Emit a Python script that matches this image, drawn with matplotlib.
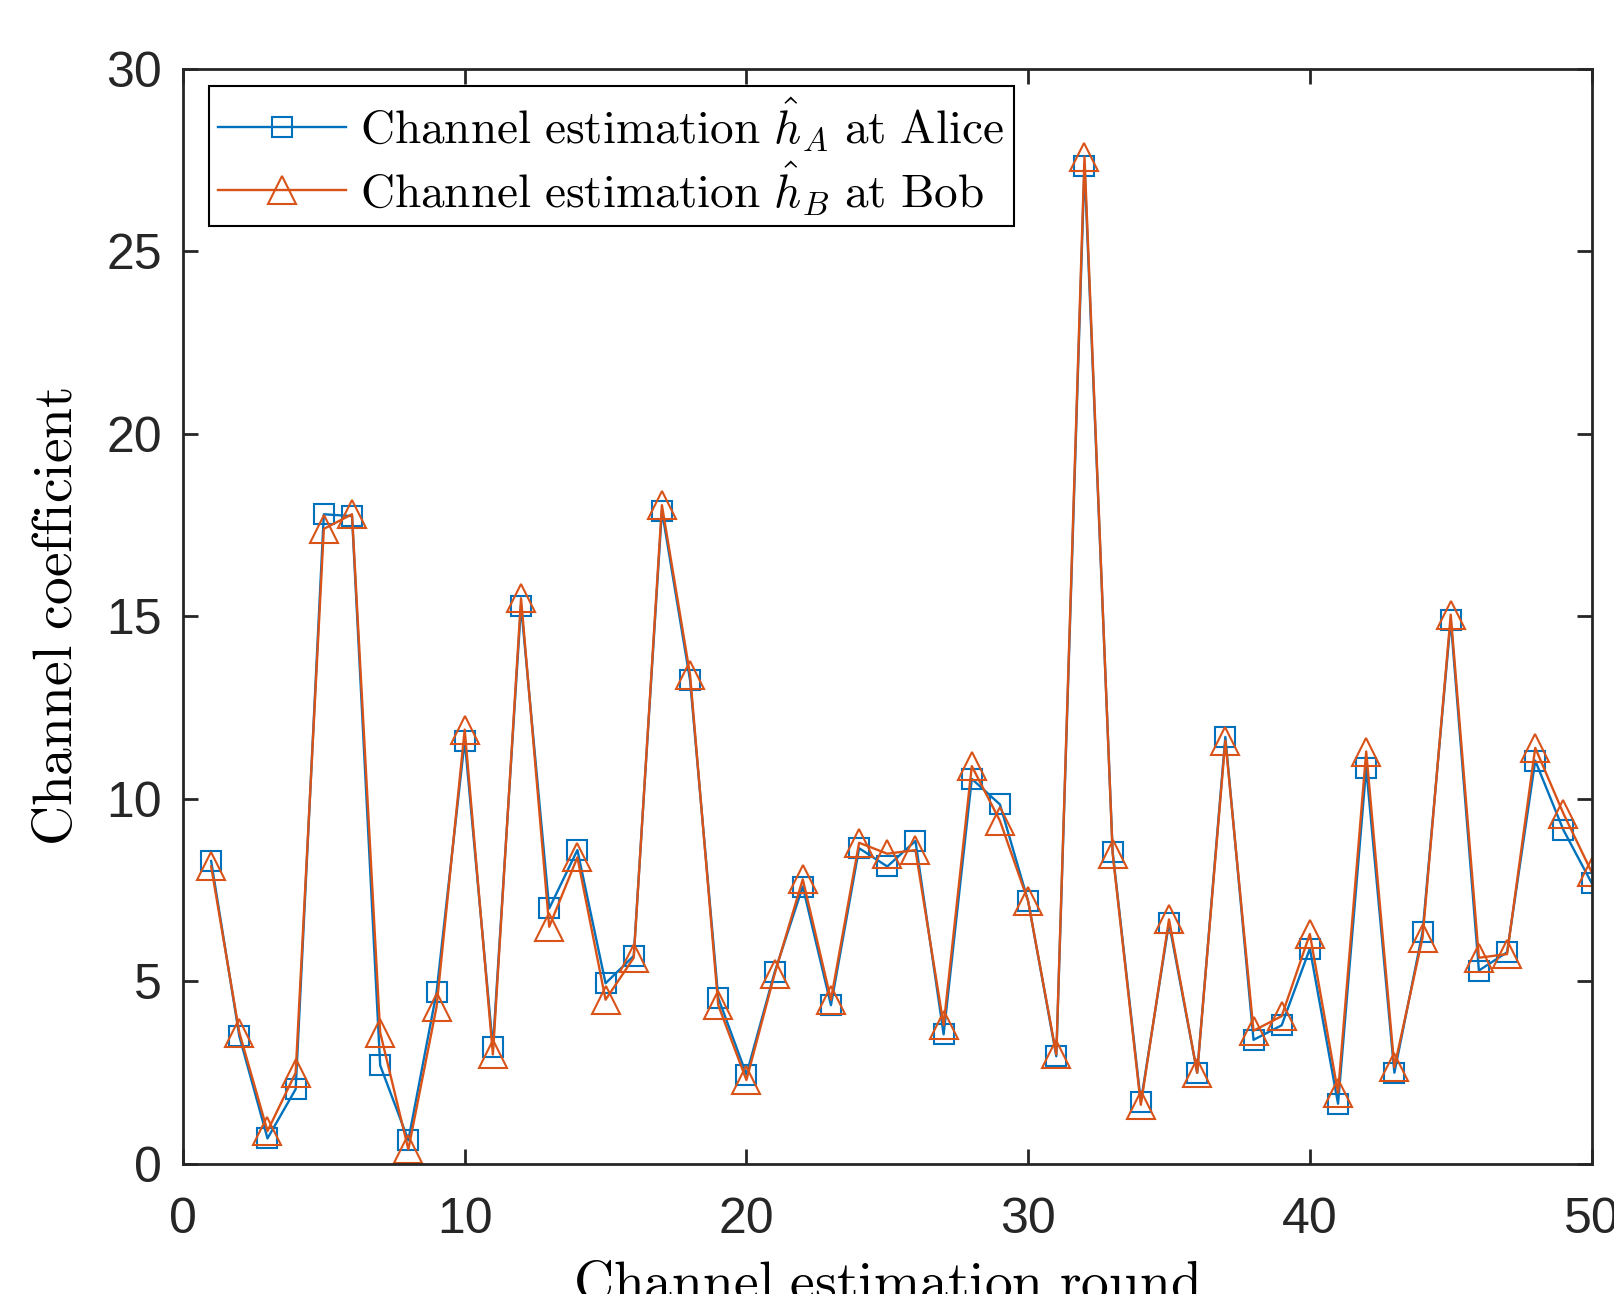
import matplotlib
matplotlib.use("Agg")
import matplotlib.pyplot as plt
import numpy as np

# channel estimation rounds
rounds = np.arange(1, 51)

# Alice's estimates (squares)
h_alice = [8.3, 3.5, 0.7, 2.05, 17.8, 17.75, 2.7, 0.65, 4.7, 11.6,
           3.2, 15.3, 7.0, 8.6, 4.95, 5.7, 17.9, 13.25, 4.55, 2.45,
           5.25, 7.6, 4.35, 8.65, 8.15, 8.85, 3.55, 10.55, 9.85, 7.2,
           2.95, 27.35, 8.55, 1.7, 6.6, 2.5, 11.7, 3.4, 3.8, 5.9,
           1.65, 10.85, 2.5, 6.35, 14.9, 5.3, 5.8, 11.05, 9.15, 7.7]

# Bob's estimates (triangles)
h_bob = [8.15, 3.6, 0.9, 2.5, 17.4, 17.8, 3.6, 0.4, 4.3, 11.9,
         3.0, 15.5, 6.5, 8.4, 4.5, 5.65, 18.05, 13.4, 4.35, 2.3,
         5.2, 7.8, 4.5, 8.8, 8.5, 8.6, 3.8, 10.9, 9.4, 7.2,
         3.0, 27.6, 8.5, 1.62, 6.7, 2.5, 11.6, 3.65, 4.05, 6.3,
         1.95, 11.3, 2.65, 6.2, 15.05, 5.65, 5.75, 11.4, 9.6, 8.0]

x_ticks = [0, 10, 20, 30, 40, 50]
y_ticks = [0, 5, 10, 15, 20, 25, 30]

blue = '#0072BD'
orange = '#D95319'
dark = '#262626'

plt.rcParams['mathtext.fontset'] = 'cm'
plt.rcParams['font.family'] = ['Liberation Sans', 'DejaVu Sans']

fig = plt.figure(figsize=(16.15, 12.94), dpi=100)
ax = fig.add_axes([0.1133, 0.1005, 0.8722, 0.8462])

ax.plot(rounds, h_alice, '-', color=blue, lw=1.7, marker='s', ms=14,
        mfc='none', mec=blue, mew=1.5,
        label=r'$\mathrm{Channel\ estimation}\ \hat{h}_A\ \mathrm{at\ Alice}$')
ax.plot(rounds, h_bob, '-', color=orange, lw=1.7, marker='^', ms=20,
        mfc='none', mec=orange, mew=1.5,
        label=r'$\mathrm{Channel\ estimation}\ \hat{h}_B\ \mathrm{at\ Bob}$')

ax.set_xlim(0, 50)
ax.set_ylim(0, 30)
ax.set_xticks(x_ticks)
ax.set_yticks(y_ticks)

for sp in ax.spines.values():
    sp.set_linewidth(2.0)
    sp.set_color(dark)

ax.tick_params(direction='in', length=11, width=2.0, color=dark,
               labelcolor=dark, labelsize=36, top=True, right=True)
ax.tick_params(axis='y', pad=15)
ax.tick_params(axis='x', pad=24)

# the x label is partly below the figure edge, as in the original
ax.set_xlabel(r'$\mathrm{Channel\ estimation\ round}$', fontsize=40)
ax.set_ylabel(r'$\mathrm{Channel\ coefficient}$', fontsize=40)
ax.xaxis.set_label_coords(0.5, -0.088)
ax.yaxis.set_label_coords(-0.070, 0.5)

leg = ax.legend(loc='upper left', bbox_to_anchor=(0.0185, 0.984),
                borderaxespad=0, fontsize=34, fancybox=False,
                edgecolor='black', framealpha=1, handlelength=2.7,
                handletextpad=0.3, borderpad=0.2, labelspacing=0.12)
leg.get_frame().set_linewidth(1.5)

fig.savefig('out.png', dpi=100)
